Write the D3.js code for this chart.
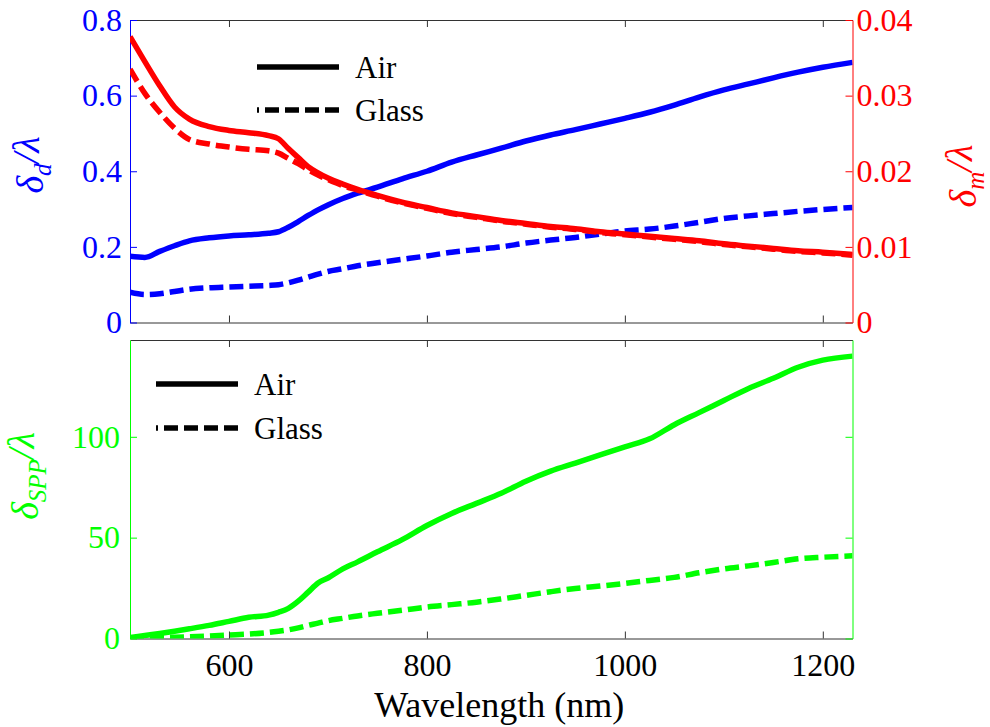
<!DOCTYPE html>
<html>
<head>
<meta charset="utf-8">
<script src="https://cdn.jsdelivr.net/npm/d3@7"></script>
<style>
  body{margin:0;background:#fff;}
  #chart svg text, #chart svg tspan{font-family:'Liberation Serif' !important;}
</style>
</head>
<body>
<div id="chart"></div>
<script>

  // wavelength samples (nm)
  var wavelength = [500,515,530,545,560,580,600,620,640,650,660,670,680,690,700,715,730,750,775,800,
    825,850,875,900,925,950,975,1000,1025,1050,1075,1100,1125,1150,1175,1200,1230]

  // delta_d / lambda (left axis, top)
  var dAir = [0.175,0.172,0.188,0.203,0.216,0.224,0.229,0.232,0.236,0.240,0.252,0.267,0.283,0.298,0.311,0.328,0.342,0.358,0.380,0.400,
    0.424,0.443,0.461,0.480,0.496,0.510,0.525,0.540,0.556,0.575,0.596,0.615,0.631,0.647,0.662,0.675,0.688]
  var dGlass = [0.080,0.074,0.076,0.082,0.088,0.092,0.094,0.096,0.098,0.100,0.105,0.112,0.120,0.128,0.135,0.142,0.150,0.158,0.167,0.176,
    0.186,0.193,0.200,0.210,0.218,0.225,0.234,0.242,0.247,0.255,0.265,0.275,0.282,0.288,0.294,0.299,0.304]

  // delta_m / lambda (right axis, top)
  var mAir = [0.0378,0.0345,0.0313,0.0285,0.0269,0.0259,0.0254,0.0251,0.0247,0.0243,0.0230,0.0218,0.0206,0.0198,0.0191,0.0183,0.0176,0.0168,0.0159,0.0152,
    0.0145,0.0140,0.0135,0.0131,0.0127,0.0124,0.0120,0.0117,0.0114,0.0111,0.0108,0.0104,0.0101,0.0098,0.0095,0.0093,0.0090]
  var mGlass = [0.0335,0.0303,0.0278,0.0257,0.0242,0.0236,0.0232,0.0229,0.0227,0.0224,0.0217,0.0210,0.0202,0.0195,0.0189,0.0181,0.0175,0.0167,0.0158,0.0151,
    0.0144,0.0139,0.0134,0.0130,0.0126,0.0123,0.0119,0.0116,0.0113,0.0110,0.0107,0.0103,0.0100,0.0097,0.0094,0.0092,0.0089]

  // delta_SPP / lambda (bottom)
  var sppAir = [0.5,1.5,2.5,3.6,4.8,6.5,8.5,10.5,11.6,13,14.9,18.5,23,27.5,30,34.5,38,43,49,56,
    62,67,72,78,83,87,91,95,99,106,112,118,124,129,134.5,138,140]
  var sppGlass = [0.3,0.4,0.5,0.6,0.8,1.2,1.7,2.2,3.0,3.6,4.3,5.3,6.5,7.6,8.8,10,11.2,12.5,14,15.6,
    16.8,18,19.6,21.4,23.2,24.8,26,27.3,28.8,30.3,32.6,34.5,36,37.7,39.5,40.3,41]

  var xTicks = [600,800,1000,1200]
  var dTicks = [0,0.2,0.4,0.6,0.8]
  var mTicks = [0,0.01,0.02,0.03,0.04]
  var sppTicks = [0,50,100]
  var legendLabels = ["Air","Glass"]

  var blue = "#0000ff", red = "#ff0000", green = "#00ff00", frameColor = "#333"
  var dash = "14,6"
  var fontName = "Liberation Serif"

  var w = 990, h = 727
  var left = 130, right = 852.5
  var topA = 20, botA = 322.5
  var topB = 340, botB = 638.5

  var svg = d3.select("#chart").append("svg").attr("width",w).attr("height",h)
    .attr("font-family",fontName)

  var x = d3.scaleLinear().domain([500,1230]).range([left,right])
  var yD = d3.scaleLinear().domain([0,0.8]).range([botA,topA])
  var yM = d3.scaleLinear().domain([0,0.04]).range([botA,topA])
  var yS = d3.scaleLinear().domain([0,148]).range([botB,topB])

  var defs = svg.append("defs")
  defs.append("clipPath").attr("id","clipA").append("rect")
    .attr("x",left).attr("y",topA).attr("width",right-left).attr("height",botA-topA)
  defs.append("clipPath").attr("id","clipB").append("rect")
    .attr("x",left).attr("y",topB).attr("width",right-left).attr("height",botB-topB)

  function setFont(sel){
    return sel.attr("font-family",fontName).style("font-family","'"+fontName+"'","important")
  }

  function styleAxis(g,color,size){
    g.attr("color",color).attr("font-size",size)
    setFont(g)
    setFont(g.selectAll(".tick text").attr("fill",color))
    return g
  }

  // x axes (frame lines with inward ticks)
  function xFrame(y,isTop,labels){
    var ax = isTop ? d3.axisTop(x) : d3.axisBottom(x)
    ax.tickValues(xTicks).tickSize(-7).tickSizeOuter(0).tickPadding(15).tickFormat(d3.format("d"))
    if(!labels){ ax.tickFormat("") }
    var g = svg.append("g").attr("transform","translate(0,"+y+")").call(ax)
    styleAxis(g,frameColor,32)
    g.selectAll(".tick text").attr("fill","#000")
  }
  xFrame(topA,true,false)
  xFrame(botA,false,false)
  xFrame(topB,true,false)
  xFrame(botB,false,true)

  var fmt1 = function(d){ return d===0 ? "0" : d3.format(".1f")(d) }
  var fmt2 = function(d){ return d===0 ? "0" : d3.format(".2f")(d) }

  styleAxis(svg.append("g").attr("transform","translate("+left+",0)")
    .call(d3.axisLeft(yD).tickValues(dTicks).tickSize(-7).tickSizeOuter(0).tickPadding(8).tickFormat(fmt1)),blue,32)
  styleAxis(svg.append("g").attr("transform","translate("+right+",0)")
    .call(d3.axisRight(yM).tickValues(mTicks).tickSize(-7).tickSizeOuter(0).tickPadding(4).tickFormat(fmt2)),red,32)
  styleAxis(svg.append("g").attr("transform","translate("+left+",0)")
    .call(d3.axisLeft(yS).tickValues(sppTicks).tickSize(-7).tickSizeOuter(0).tickPadding(10)),green,32)
  styleAxis(svg.append("g").attr("transform","translate("+right+",0)")
    .call(d3.axisRight(yS).tickValues(sppTicks).tickSize(-7).tickSizeOuter(0).tickFormat("")),green,32)

  // series lines
  function drawLine(values,yScale,color,dashed,clip){
    var pts = wavelength.map(function(d,i){ return [d,values[i]] })
    var line = d3.line()
      .x(function(d){ return x(d[0]) })
      .y(function(d){ return yScale(d[1]) })
      .curve(d3.curveMonotoneX)
    svg.append("path")
      .datum(pts)
      .attr("clip-path","url(#"+clip+")")
      .attr("d",line)
      .attr("fill","none")
      .attr("stroke",color)
      .attr("stroke-width",5.5)
      .attr("stroke-dasharray",dashed ? dash : null)
  }
  drawLine(dGlass,yD,blue,true,"clipA")
  drawLine(dAir,yD,blue,false,"clipA")
  drawLine(mGlass,yM,red,true,"clipA")
  drawLine(mAir,yM,red,false,"clipA")
  drawLine(sppGlass,yS,green,true,"clipB")
  drawLine(sppAir,yS,green,false,"clipB")

  // legends
  function legend(x0,y0,gap){
    var g = svg.append("g").attr("transform","translate("+x0+","+y0+")")
    g.selectAll("line").data(legendLabels).enter().append("line")
      .attr("x1",0).attr("x2",82)
      .attr("y1",function(d,i){ return i*gap }).attr("y2",function(d,i){ return i*gap })
      .attr("stroke","#000").attr("stroke-width",5.5)
      .attr("stroke-dasharray",function(d,i){ return i==1 ? dash : null })
      .attr("stroke-dashoffset",function(d,i){ return i==1 ? 12 : null })
    setFont(g.selectAll("text").data(legendLabels).enter().append("text")
      .attr("x",98).attr("y",function(d,i){ return i*gap+11 })
      .attr("font-size",31).attr("fill","#000")
      .text(function(d){ return d }))
  }
  legend(257,67,43)
  legend(156,384,44)

  // axis titles
  function yTitle(xp,yp,sub,color){
    var t = svg.append("text")
      .attr("transform","translate("+xp+","+yp+") rotate(-90)")
      .attr("text-anchor","middle")
      .attr("fill",color)
      .attr("font-size",38)
      .attr("font-style","italic")
    setFont(t)
    t.append("tspan").text("\u03b4")
    t.append("tspan").attr("font-size",25).attr("dy","0.3em").text(sub)
    t.append("tspan").attr("dy","-0.3em").text("/\u03bb")
  }
  yTitle(43,165,"d",blue)
  yTitle(976,176,"m",red)
  yTitle(38,476,"SPP",green)

  setFont(svg.append("text")
    .attr("x",(left+right)/2+8).attr("y",717)
    .attr("text-anchor","middle")
    .attr("font-size",36)
    .attr("fill","#000")
    .text("Wavelength (nm)"))

</script>
</body>
</html>
